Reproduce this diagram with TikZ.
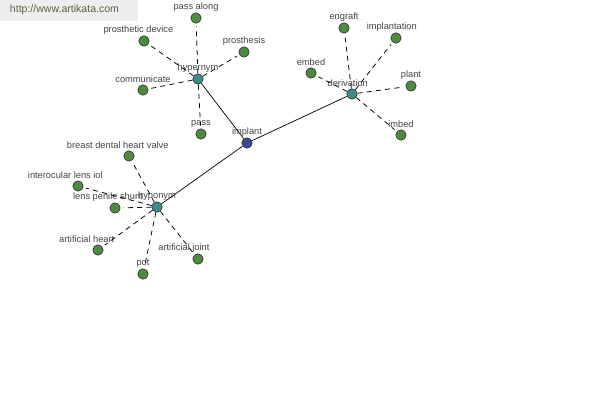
\documentclass[tikz,border=0pt]{standalone}
\usepackage{fontspec}
\setmainfont{Liberation Sans}
\definecolor{leafgreen}{HTML}{4E8B3F}
\definecolor{relteal}{HTML}{3C8C8C}
\definecolor{rootblue}{HTML}{3A4A8C}
\definecolor{lblgray}{HTML}{444444}
\definecolor{markgray}{HTML}{EEEEEE}
\definecolor{marktext}{HTML}{55663F}
\tikzset{
  wnode/.style={circle, draw=black!80, line width=0.45pt, minimum size=0.26cm, inner sep=0pt},
  leaf/.style={wnode, fill=leafgreen},
  rel/.style={wnode, fill=relteal},
  root/.style={wnode, fill=rootblue},
  lbl/.style={font=\fontsize{6.6}{7}\selectfont, text=lblgray, inner sep=0.5pt},
  every label/.style={lbl},
  link/.style={dashed, dash pattern=on 3.6pt off 3pt, line width=0.55pt, shorten >=2pt},
}
\begin{document}
\begin{tikzpicture}[x=0.025cm, y=-0.025cm, label distance=0.3pt]
    \useasboundingbox (0,0) rectangle (600,400);
    \fill[markgray] (0,0) rectangle (138,21);
    \node[font=\fontsize{7.5}{9}\selectfont, text=marktext, anchor=west] (mark) at (5,10) {http://www.artikata.com};

    % centre and relations
    \node[root, label=above:implant] (implant) at (247,143) {};
    \node[rel, label=above:hypernym] (hyper) at (198,79) {};
    \node[rel, label={[xshift=-3pt]above:derivation}] (deriv) at (352,94) {};
    \node[rel, label=above:hyponym] (hypo) at (157,207) {};

    % hypernym
    \node[leaf, label=above:pass along] (passalong) at (196,18) {};
    \node[leaf, label={[xshift=-4pt]above:prosthetic device}] (prosdev) at (144,41) {};
    \node[leaf, label=above:prosthesis] (prosthesis) at (244,52) {};
    \node[leaf, label=above:communicate] (communicate) at (143,90) {};
    \node[leaf, label=above:pass] (pass) at (201,134) {};

    % derivation
    \node[leaf, label=above:engraft] (engraft) at (344,28) {};
    \node[leaf, label={[xshift=-3pt]above:implantation}] (implantation) at (396,38) {};
    \node[leaf, label=above:embed] (embed) at (311,73) {};
    \node[leaf, label=above:plant] (plant) at (411,86) {};
    \node[leaf, label=above:imbed] (imbed) at (401,135) {};

    % hyponym
    \node[leaf, label={[xshift=-8pt]above:breast dental heart valve}] (valve) at (129,156) {};
    \node[leaf, label={[xshift=-9pt]above:interocular lens iol}] (iol) at (78,186) {};
    \node[leaf, label={[xshift=-5pt]above:lens penile shunt}] (shunt) at (115,208) {};
    \node[leaf, label={[xshift=-8pt]above:artificial heart}] (heart) at (98,250) {};
    \node[leaf, label=above:pot] (pot) at (143,274) {};
    \node[leaf, label={[xshift=-10pt]above:artificial joint}] (joint) at (198,259) {};

    \draw[line width=0.5pt] (implant) -- (hyper);
    \draw[line width=0.5pt] (implant) -- (deriv);
    \draw[line width=0.5pt] (implant) -- (hypo);

    \draw[link] (hyper) -- (passalong);
    \draw[link] (hyper) -- (prosdev);
    \draw[link] (hyper) -- (prosthesis);
    \draw[link] (hyper) -- (communicate);
    \draw[link] (hyper) -- (pass);

    \draw[link] (deriv) -- (engraft);
    \draw[link] (deriv) -- (implantation);
    \draw[link] (deriv) -- (embed);
    \draw[link] (deriv) -- (plant);
    \draw[link] (deriv) -- (imbed);

    \draw[link] (hypo) -- (valve);
    \draw[link] (hypo) -- (iol);
    \draw[link] (hypo) -- (shunt);
    \draw[link] (hypo) -- (heart);
    \draw[link] (hypo) -- (pot);
    \draw[link] (hypo) -- (joint);
\end{tikzpicture}
\end{document}
